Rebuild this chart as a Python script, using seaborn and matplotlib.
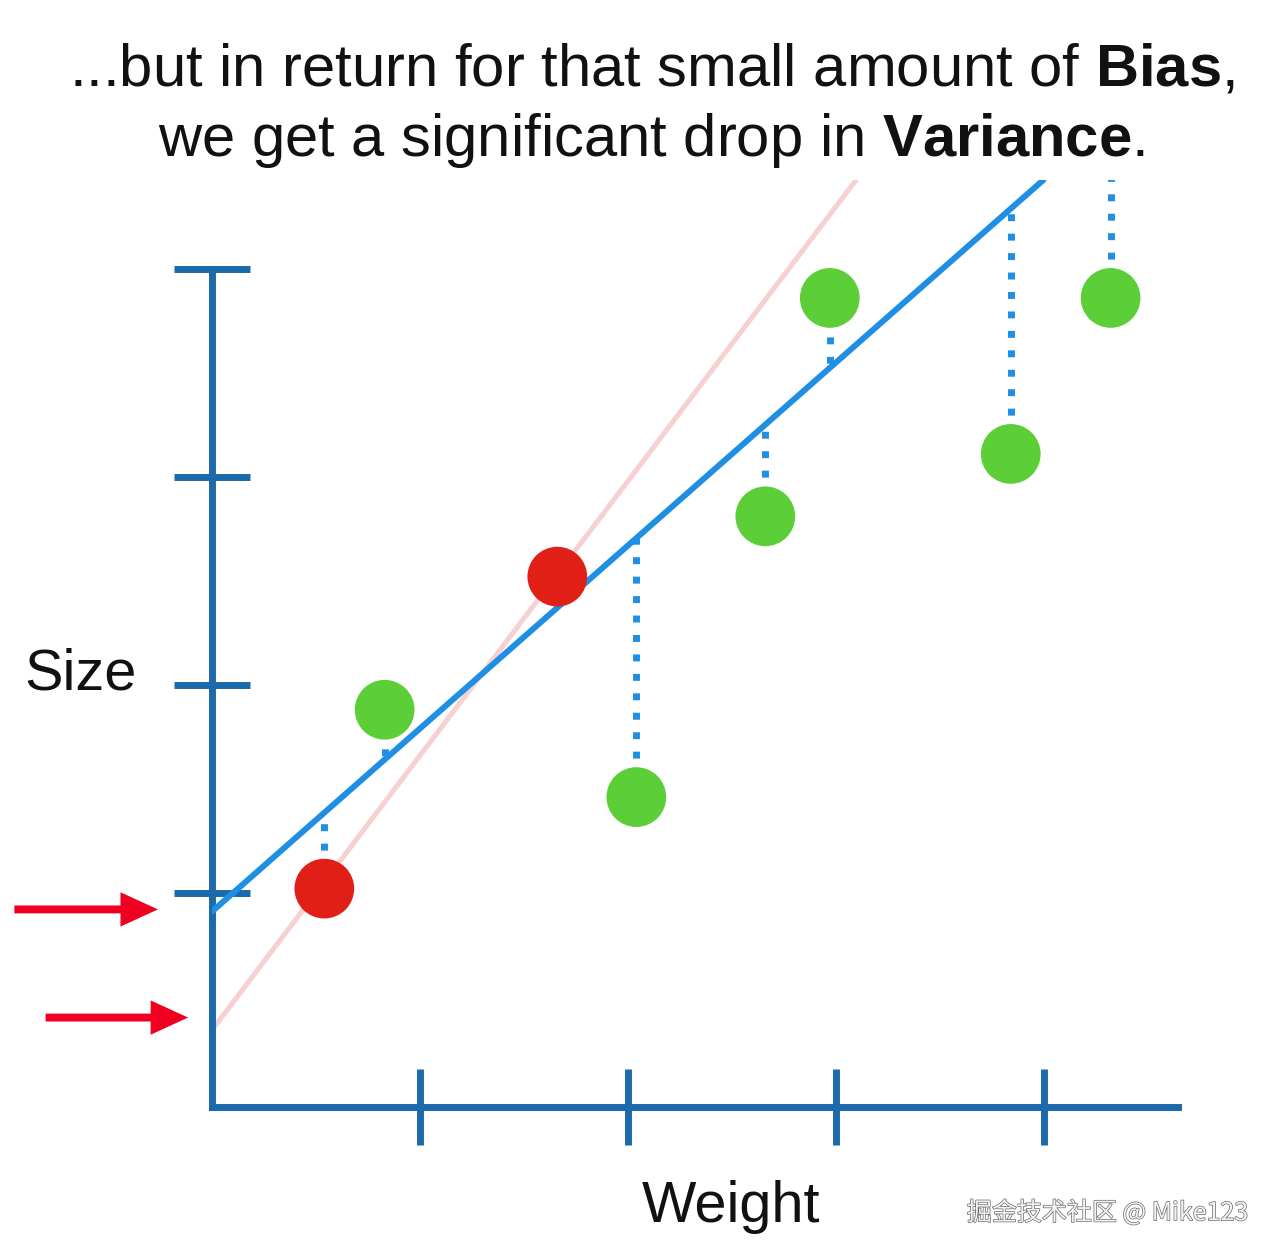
import numpy as np
import pandas as pd
import seaborn as sns
import matplotlib.pyplot as plt
import matplotlib.patheffects as pe

# points (weight, size) and which set they belong to
weight = [0.54, 1.66, 0.83, 2.04, 2.66, 2.97, 3.84, 4.32]
size = [1.05, 2.55, 1.91, 1.49, 2.84, 3.89, 3.14, 3.89]
group = ['train', 'train', 'test', 'test', 'test', 'test', 'test', 'test']

# ridge line (blue) and least squares line (pink)
ridge_b, ridge_m = 0.94, 0.88
ols_b, ols_m = 0.37, 1.32

xticks = [1, 2, 3, 4]
yticks = [1.03, 2.03, 3.03, 4.03]
arrow_y = [0.95, 0.43]     # where the red arrows point
arrow_tail = [-0.95, -0.80]
arrow_tip = [-0.26, -0.115]

df = pd.DataFrame({'Weight': weight, 'Size': size, 'group': group})

sns.set_theme(style='white')
plt.rcParams['font.family'] = ['Liberation Sans', 'DejaVu Sans']
plt.rcParams['mathtext.fontset'] = 'custom'
plt.rcParams['mathtext.bf'] = 'Liberation Sans:bold'
plt.rcParams['mathtext.rm'] = 'Liberation Sans'

axis_col = '#1b6aab'
line_col = '#1f8fe3'

fig = plt.figure(figsize=(12.8, 12.58), dpi=100)
ax = fig.add_axes([212 / 1280, 151 / 1258, 966 / 1280, 927 / 1258])
ax.set_xlim(0, 4.644)
ax.set_ylim(0, 4.457)

ax.axline((0, ols_b), slope=ols_m, color='#f7d0d2', lw=3.6, zorder=2)
ax.axline((0, ridge_b), slope=ridge_m, color=line_col, lw=4.3, zorder=3,
          solid_capstyle='round')

w = np.array(weight)
ax.vlines(w, size, ridge_b + ridge_m * w, colors=line_col, lw=5,
          linestyles=(0, (1, 1.8)), zorder=2.5)

sns.scatterplot(data=df, x='Weight', y='Size', hue='group',
                palette={'train': '#e01f16', 'test': '#5cce38'},
                s=1850, edgecolor='none', legend=False, ax=ax, zorder=4)

for s in ['top', 'right']:
    ax.spines[s].set_visible(False)
for s in ['left', 'bottom']:
    ax.spines[s].set_color(axis_col)
    ax.spines[s].set_linewidth(5)
    ax.spines[s].set_capstyle('projecting')
ax.spines['left'].set_bounds(0, yticks[-1])
ax.set_xticks(xticks)
ax.set_yticks(yticks)
ax.tick_params(direction='inout', length=55, width=5, color=axis_col,
               bottom=True, left=True,
               labelbottom=False, labelleft=False)
ax.set_xlabel('')
ax.set_ylabel('')

for y, x0, x1 in zip(arrow_y, arrow_tail, arrow_tip):
    ax.arrow(x0, y, x1 - x0, 0, width=0.038, head_width=0.165,
             head_length=0.18, length_includes_head=True, color='#f00020',
             lw=0, clip_on=False)

fig.text(81 / 1280, 1 - 675 / 1258, 'Size', fontsize=41.5, ha='center',
         va='center', color='#111111')
fig.text(731 / 1280, 1 - 1207 / 1258, 'Weight', fontsize=41.5, ha='center',
         va='center', color='#111111')

fig.text(652 / 1280, 1 - 70 / 1258,
         r'...but in return for that small amount of $\bf{Bias}$,',
         fontsize=43, ha='center', va='center', color='#111111')
fig.text(651 / 1280, 1 - 140 / 1258,
         r'we get a significant drop in $\bf{Variance}$.',
         fontsize=43, ha='center', va='center', color='#111111')

fig.text(1248 / 1280, 1 - 1213 / 1258, '掘金技术社区 @ Mike123',
         fontsize=18, ha='right', va='center', color='#f4f4f4',
         family=['Noto Sans CJK SC', 'DejaVu Sans'],
         path_effects=[pe.withStroke(linewidth=1.0, foreground='#6a6a6a')])

fig.savefig('out.png', dpi=100)
